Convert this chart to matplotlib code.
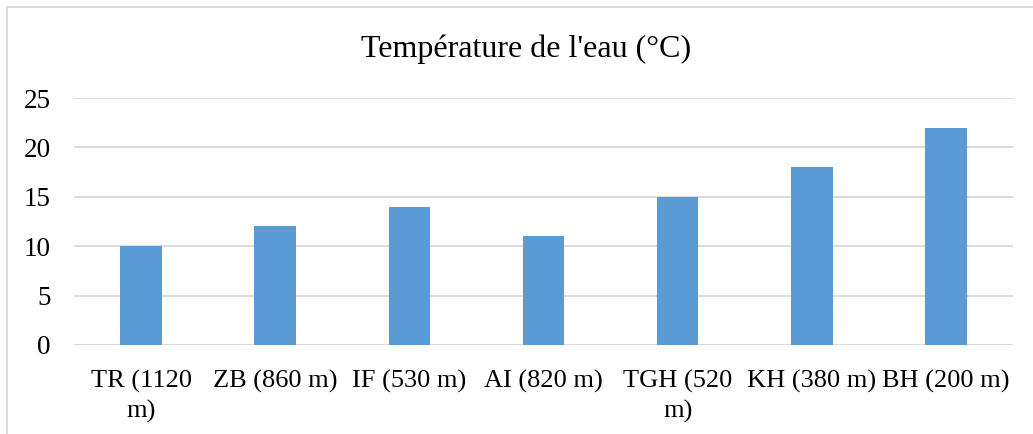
import matplotlib
matplotlib.use("Agg")
import matplotlib.pyplot as plt
from matplotlib.patches import Rectangle

plt.rcParams['font.family'] = ['Liberation Serif', 'DejaVu Serif']

# water temperature per station (altitude in label)
stations = ["TR (1120\nm)", "ZB (860 m)", "IF (530 m)", "AI (820 m)",
            "TGH (520\nm)", "KH (380 m)", "BH (200 m)"]
temps = [10, 12, 14, 11, 15, 18, 22]
yticks = [0, 5, 10, 15, 20, 25]

W, H = 1033, 434
fig = plt.figure(figsize=(W / 100, H / 100), dpi=100)
ax = fig.add_axes([74 / W, (H - 345) / H, (1013 - 74) / W, (345 - 98) / H])

x = range(len(stations))
ax.bar(x, temps, width=0.31, color="#5B9BD5", zorder=3)

ax.set_xlim(-0.5, len(stations) - 0.5)
ax.set_ylim(0, 25)
ax.set_yticks(yticks)
ax.set_xticks(list(x))
ax.set_xticklabels(stations, fontsize=19, linespacing=1.4, va="top")
ax.tick_params(axis="y", labelsize=19.5, length=0, pad=17)
ax.tick_params(axis="x", length=0, pad=18)
ax.yaxis.grid(True, color="#D9D9D9", linewidth=1.3, zorder=0)
for s in ax.spines.values():
    s.set_visible(False)
ax.axhline(0, color="#D9D9D9", linewidth=1.3, zorder=2)

fig.text(0.5 + 10 / W, (H - 49) / H, "Température de l'eau (°C)", fontsize=23,
         ha="center", va="center")

# chart border, cut off at right and bottom
fig.patches.append(Rectangle((7 / W, -0.1), 1.2, (H - 7) / H + 0.1,
                             transform=fig.transFigure, fill=False,
                             edgecolor="#D9D9D9", linewidth=1.3))

fig.savefig("out.png", dpi=100)
